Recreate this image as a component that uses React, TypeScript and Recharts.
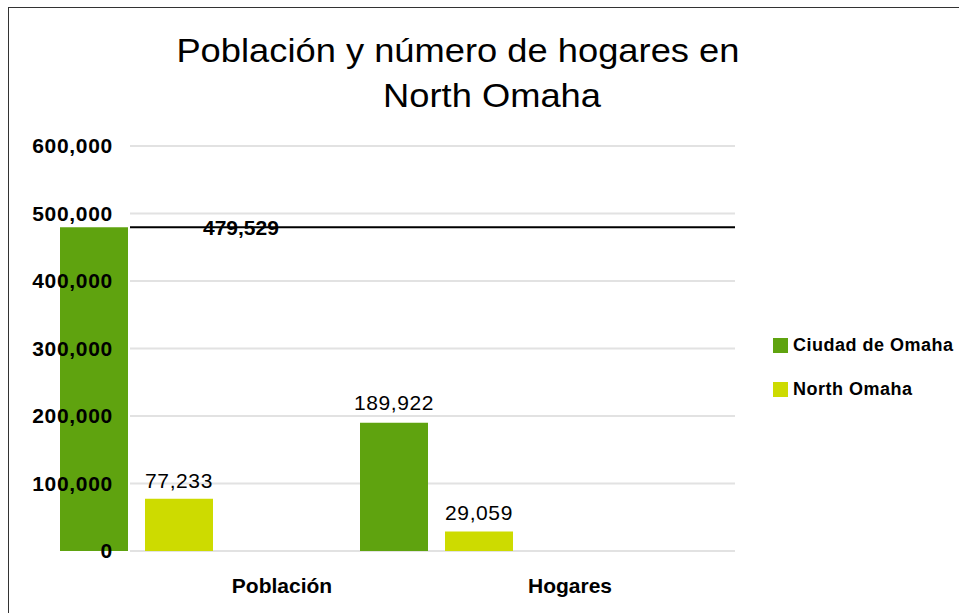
import React from 'react';
import { BarChart, Bar, XAxis, YAxis, CartesianGrid, Legend, ReferenceLine, LabelList, Label } from 'recharts';

const categories = ['Población', 'Hogares'];
const ciudadOmaha = [479529, 189922];
const northOmaha = [77233, 29059];
const yTicks = [0, 100000, 200000, 300000, 400000, 500000, 600000];
const seriesNames = ['Ciudad de Omaha', 'North Omaha'];
const colors = ['#5fa30f', '#cddb00'];
const titleLines = ['Población y número de hogares en', 'North Omaha'];

const data = categories.map((c, i) => ({ category: c, ciudad: ciudadOmaha[i], north: northOmaha[i] }));

const FONT = '"Liberation Sans", Arial, Helvetica, sans-serif';
const fmt = (v: number) => Number(v).toLocaleString('en-US');

const XTick = (props: any) => {
  const { x, y, payload, index } = props;
  return (
    <text x={x + 146 - (index === 1 ? 12 : 0)} y={y + 42} textAnchor="middle" fontFamily={FONT} fontSize={21} fontWeight="bold" fill="#000">
      {payload.value}
    </text>
  );
};

const CiudadLabel = (props: any) => {
  const vb = props.viewBox || props;
  const x = props.x ?? vb.x;
  const y = props.y ?? vb.y;
  const w = props.width ?? vb.width;
  if (props.index === 0) return null;
  return (
    <text x={x + w / 2} y={y - 13} textAnchor="middle" fontFamily={FONT} fontSize={21} letterSpacing={0.6} fill="#000">
      {fmt(props.value)}
    </text>
  );
};

const LegendContent = () => (
  <div style={{ fontFamily: FONT }}>
    {seriesNames.map((n, i) => (
      <div key={n} style={{ display: 'flex', alignItems: 'center', height: 20, marginBottom: i === 0 ? 24 : 0 }}>
        <span style={{ display: 'inline-block', width: 15, height: 15, background: colors[i], marginRight: 5 }} />
        <span style={{ fontSize: 18, fontWeight: 'bold', color: '#000', whiteSpace: 'nowrap', letterSpacing: 0.5 }}>{n}</span>
      </div>
    ))}
  </div>
);

const titleStyle: React.CSSProperties = {
  position: 'absolute',
  left: 0,
  textAlign: 'center',
  fontFamily: FONT,
  fontSize: 33,
  color: '#000',
  whiteSpace: 'nowrap',
};

export default function App() {
  return (
    <div style={{ position: 'absolute', left: 0, top: 0, width: 959, height: 613, background: '#fff', overflow: 'hidden' }}>
      <div style={{ position: 'absolute', left: 8, top: 7, width: 960, height: 620, borderLeft: '1px solid #333', borderTop: '1px solid #333' }} />
      <div style={{ ...titleStyle, width: 916, top: 32 }}>
        <span style={{ display: 'inline-block', transform: 'scaleX(1.1)' }}>{titleLines[0]}</span>
      </div>
      <div style={{ ...titleStyle, width: 984, top: 77 }}>
        <span style={{ display: 'inline-block', transform: 'scaleX(1.1)' }}>{titleLines[1]}</span>
      </div>
      <div style={{ position: 'absolute', left: 0, top: 0 }}>
        <BarChart width={959} height={613} data={data} margin={{ top: 146, right: 224, bottom: 22, left: 0 }} barSize={68} barGap={17}>
          <CartesianGrid horizontal vertical={false} stroke="#e2e2e2" strokeWidth={2} />
          <XAxis dataKey="category" axisLine={false} tickLine={false} tickSize={0} tickMargin={0} height={40} padding={{ left: -144, right: 149 }} tick={<XTick />} interval={0} />
          <YAxis type="number" domain={[0, 600000]} ticks={yTicks} width={130} axisLine={false} tickLine={false} tickSize={0} tickMargin={17} tickFormatter={fmt} tick={{ fontFamily: FONT, fontSize: 21, fontWeight: 'bold', fill: '#000', letterSpacing: 0.7 }} />
          <ReferenceLine y={ciudadOmaha[0]} stroke="#000" strokeWidth={2} ifOverflow="extendDomain">
            <Label value={fmt(ciudadOmaha[0])} position="insideLeft" offset={73} fontFamily={FONT} fontSize={21} fontWeight="bold" fill="#000" />
          </ReferenceLine>
          <Bar dataKey="ciudad" name={seriesNames[0]} fill={colors[0]} isAnimationActive={false}>
            <LabelList dataKey="ciudad" content={<CiudadLabel />} />
          </Bar>
          <Bar dataKey="north" name={seriesNames[1]} fill={colors[1]} isAnimationActive={false}>
            <LabelList dataKey="north" position="top" offset={11} formatter={fmt} fontFamily={FONT} fontSize={21} letterSpacing={0.6} fill="#000" />
          </Bar>
          <Legend layout="vertical" align="center" verticalAlign="middle" content={<LegendContent />} wrapperStyle={{ left: 773, top: 335, width: 190 }} />
        </BarChart>
      </div>
    </div>
  );
}
